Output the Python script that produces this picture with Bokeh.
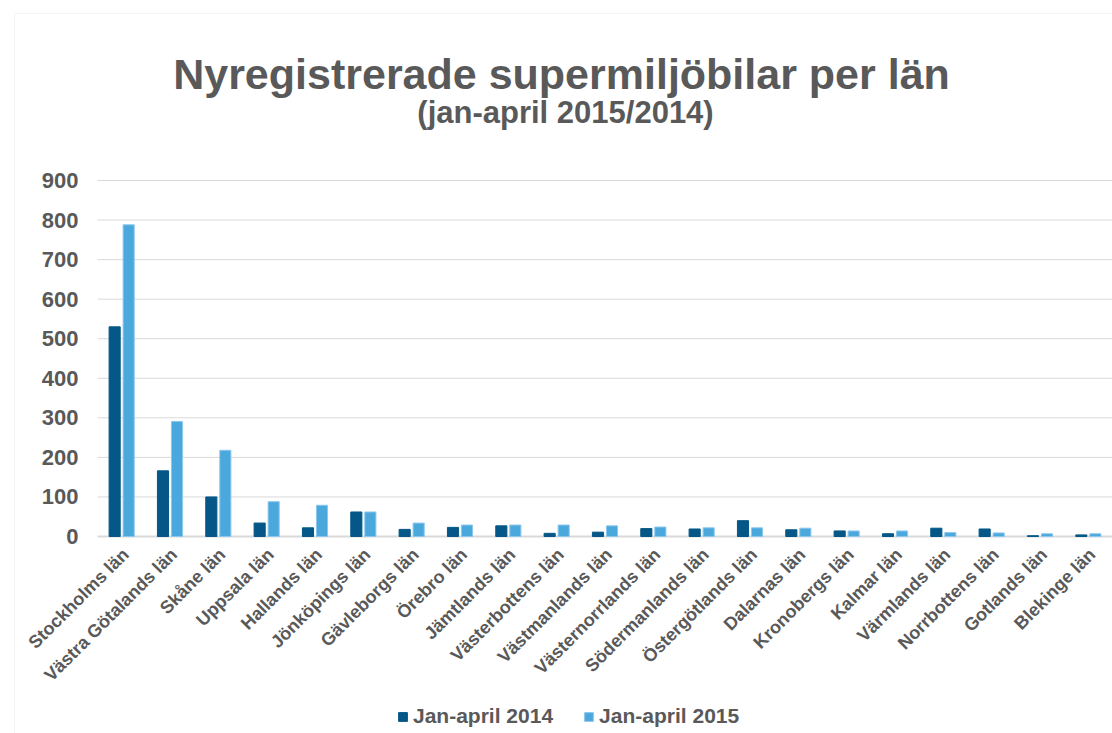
from math import pi
import numpy as np
from bokeh.plotting import figure
from bokeh.models import (ColumnDataSource, Range1d, Legend, LegendItem,
                          Label, BoxAnnotation)
from bokeh.transform import dodge
from bokeh.core.properties import value
from bokeh.embed import file_html
from bokeh.resources import INLINE

counties = ["Stockholms län", "Västra Götalands län", "Skåne län", "Uppsala län",
            "Hallands län", "Jönköpings län", "Gävleborgs län", "Örebro län",
            "Jämtlands län", "Västerbottens län", "Västmanlands län",
            "Västernorrlands län", "Södermanlands län", "Östergötlands län",
            "Dalarnas län", "Kronobergs län", "Kalmar län", "Värmlands län",
            "Norrbottens län", "Gotlands län", "Blekinge län"]
y2014 = [530, 166, 100, 34, 22, 62, 18, 23, 27, 8, 11, 20, 19, 40, 17, 14, 7, 21, 19, 2, 4]
y2015 = [788, 291, 218, 88, 79, 62, 34, 29, 29, 29, 27, 24, 22, 22, 21, 14, 14, 10, 9, 7, 7]
y_ticks = [0, 100, 200, 300, 400, 500, 600, 700, 800, 900]
y_tick_labels = ["0", "100", "200", "300", "400", "500", "600", "700", "800", "900"]
series_names = ["Jan-april 2014", "Jan-april 2015"]
title_text = "Nyregistrerade supermiljöbilar per län"
subtitle_text = "(jan-april 2015/2014)"

DARK = "#045786"
LIGHT = "#4AA8DC"
TXT = "#595959"
GRID = "#D9D9D9"
FONT = value("Liberation Sans")

W, H = 1112, 733
LEFT = 97                           # screen column where the category band starts
Y0_PX, Y900_PX = 536, 180           # screen rows of 0 and 900
ppu = (Y0_PX - Y900_PX) / 900.0     # pixels per value unit
y_lo = -(H - Y0_PX) / ppu
y_hi = 900 + Y900_PX / ppu

n = len(counties)
slot = (W - LEFT) / n               # pixels per category
x_lo = -0.5 - LEFT / slot
x_hi = n - 0.5
idx = np.arange(n)                  # category positions on the x scale

src = ColumnDataSource(dict(pos=idx, cat=counties, a=y2014, b=y2015,
                            zero=[0] * n))

p = figure(x_range=Range1d(x_lo, x_hi), y_range=Range1d(y_lo, y_hi),
           width=W, height=H, title=None,
           x_axis_location=None, y_axis_location=None,
           output_backend="svg", toolbar_location=None,
           min_border=0)
p.outline_line_color = None
p.background_fill_color = "white"
p.border_fill_color = "white"
p.xgrid.grid_line_color = None
p.ygrid.grid_line_color = None

# gridlines across the category band, and a heavier baseline at zero
gsrc = ColumnDataSource(dict(y=y_ticks[1:], x0=[-0.5] * (len(y_ticks) - 1),
                             x1=[x_hi] * (len(y_ticks) - 1)))
p.segment(x0="x0", y0="y", x1="x1", y1="y", source=gsrc,
          line_color=GRID, line_width=1)
p.segment(x0=-0.5, y0=0, x1=x_hi, y1=0, line_color=GRID, line_width=2)

BAR_W = 0.23
OFF = 0.145
r1 = p.vbar(x=dodge("pos", -OFF), top="a", width=BAR_W, source=src,
            fill_color=DARK, line_color=DARK)
r2 = p.vbar(x=dodge("pos", OFF), top="b", width=BAR_W, source=src,
            fill_color=LIGHT, line_color="#8CC8EE")

# y tick labels (right-aligned left of the plot band)
ysrc = ColumnDataSource(dict(y=y_ticks, t=y_tick_labels, x=[x_lo] * len(y_ticks)))
p.text(x="x", y="y", text="t", source=ysrc, x_offset=78,
       text_align="right", text_baseline="middle",
       text_font=FONT, text_font_style="bold", text_font_size="22px",
       text_color=TXT)

# category labels, rotated 45 degrees, anchored at their end under each category
p.text(x="pos", y="zero", text="cat", source=src, angle=pi / 4,
       x_offset=4, y_offset=15, text_align="right", text_baseline="middle",
       text_font=FONT, text_font_style="bold", text_font_size="18px",
       text_color=TXT)

# titles
p.add_layout(Label(x=561, y=H - 89 + 16, x_units="screen", y_units="screen",
                   text=title_text, text_align="center", text_baseline="alphabetic",
                   text_font="Liberation Sans", text_font_style="bold",
                   text_font_size="43px", text_color=TXT))
p.add_layout(Label(x=565, y=H - 125 + 13, x_units="screen", y_units="screen",
                   text=subtitle_text, text_align="center", text_baseline="alphabetic",
                   text_font="Liberation Sans", text_font_style="bold",
                   text_font_size="31px", text_color=TXT))

# outer chart border
p.add_layout(BoxAnnotation(left=14, right=W + 20, top=H - 13, bottom=-20,
                           left_units="screen", right_units="screen",
                           top_units="screen", bottom_units="screen",
                           fill_alpha=0, line_color=GRID, line_width=1,
                           level="underlay"))

legend = Legend(items=[LegendItem(label=series_names[0], renderers=[r1]),
                       LegendItem(label=series_names[1], renderers=[r2])],
                location=(397, 5), orientation="horizontal",
                glyph_width=11, glyph_height=11, label_standoff=5, spacing=30,
                padding=0, margin=0, border_line_alpha=0, background_fill_alpha=0,
                label_text_font="Liberation Sans", label_text_font_style="bold",
                label_text_font_size="21px", label_text_color=TXT)
p.add_layout(legend, "center")

open("out.html", "w").write(file_html(p, INLINE))
